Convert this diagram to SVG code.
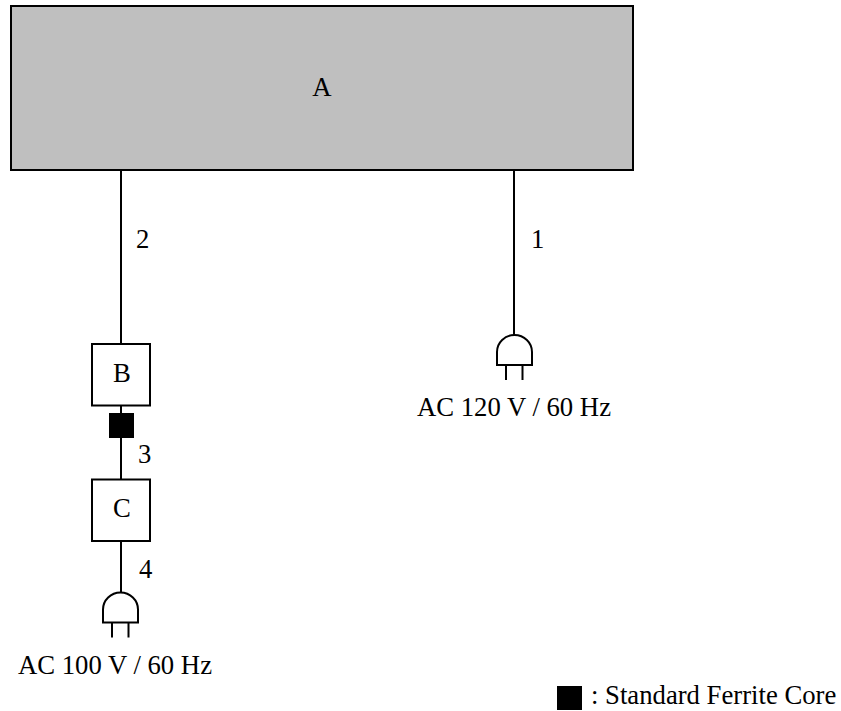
<svg xmlns="http://www.w3.org/2000/svg" width="841" height="711" viewBox="0 0 841 711">
<defs><style>
text{font-family:"Liberation Serif","Times New Roman",serif;font-size:26.7px;fill:#000}
.m{text-anchor:middle}
.b{fill:#fff;stroke:#000;stroke-width:2}
.l{fill:none;stroke:#000;stroke-width:2}
</style>
<g id="plug"><path class="l" d="M-17.5 30V17A17.5 17 0 0 1 17.5 17V30ZM-8.5 30V45M8 30V45"/></g>
</defs>
<rect width="841" height="711" fill="#fff"/>
<g id="connectors">
<path class="l" d="M121 170V344M121 405V479M121 541V593M514 170V335"/>
</g>
<g id="A"><rect x="11" y="6" width="622" height="164" fill="#bfbfbf" stroke="#000" stroke-width="2"/><text class="m" x="322" y="96">A</text></g>
<g id="B"><rect class="b" x="92" y="344" width="58" height="61.500"/><text class="m" x="122" y="382">B</text></g>
<g id="ferrite"><rect x="109" y="413" width="25" height="25" fill="#000"/></g>
<g id="C"><rect class="b" x="92" y="479.500" width="58" height="61.500"/><text class="m" x="122" y="517">C</text></g>
<g id="plug1"><use href="#plug" x="514.500" y="335"/><text class="m" x="514" y="416">AC 120 V / 60 Hz</text></g>
<g id="plug2"><use href="#plug" x="120.500" y="592.500"/><text class="m" x="115" y="674">AC 100 V / 60 Hz</text></g>
<g id="labels">
<text x="136" y="248">2</text><text x="531" y="248">1</text><text x="138" y="463">3</text><text x="139" y="578">4</text>
</g>
<g id="legend"><rect x="557" y="686" width="25" height="24" fill="#000"/><text x="591" y="704">: Standard Ferrite Core</text></g>
</svg>
